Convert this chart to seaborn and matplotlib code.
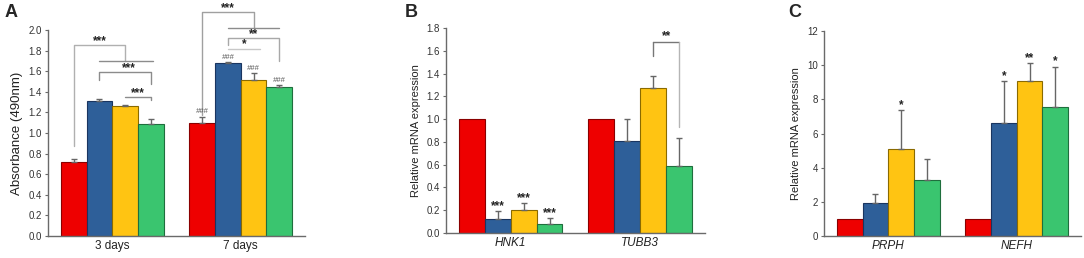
import matplotlib
matplotlib.use("Agg")
import matplotlib.pyplot as plt
import seaborn as sns
import pandas as pd
import numpy as np

sns.set_style("white")
plt.rcParams['font.family'] = ['Liberation Sans', 'DejaVu Sans']

groups = ["G1", "G2", "G3", "G4"]
colors = ["#EE0000", "#2E5F99", "#FFC412", "#3AC56F"]
edges = ["#8a0000", "#1a3560", "#8a6a00", "#1f6e3d"]

# Panel A
a_cats = ["3 days", "7 days"]
a_vals = {"3 days": [0.72, 1.31, 1.26, 1.09], "7 days": [1.10, 1.68, 1.51, 1.45]}
a_errs = {"3 days": [0.03, 0.02, 0.01, 0.045], "7 days": [0.055, 0.01, 0.07, 0.02]}
a_ticks = [0.0, 0.2, 0.4, 0.6, 0.8, 1.0, 1.2, 1.4, 1.6, 1.8, 2.0]

# Panel B
b_cats = ["HNK1", "TUBB3"]
b_vals = {"HNK1": [1.0, 0.12, 0.20, 0.08], "TUBB3": [1.0, 0.81, 1.27, 0.59]}
b_errs = {"HNK1": [0.0, 0.07, 0.06, 0.05], "TUBB3": [0.0, 0.19, 0.11, 0.24]}
b_ticks = [0.0, 0.2, 0.4, 0.6, 0.8, 1.0, 1.2, 1.4, 1.6, 1.8]

# Panel C
c_cats = ["PRPH", "NEFH"]
c_vals = {"PRPH": [1.0, 1.95, 5.1, 3.3], "NEFH": [1.0, 6.6, 9.1, 7.55]}
c_errs = {"PRPH": [0.0, 0.5, 2.25, 1.2], "NEFH": [0.0, 2.45, 1.0, 2.35]}
c_ticks = [0, 2, 4, 6, 8, 10, 12]


def make_df(cats, vals, errs):
    rows = []
    for c in cats:
        for g, v, e in zip(groups, vals[c], errs[c]):
            rows.append({"cat": c, "grp": g, "val": v, "err": e})
    return pd.DataFrame(rows)


fig = plt.figure(figsize=(10.84, 2.58), dpi=100)
axA = fig.add_axes([0.0443, 0.0853, 0.2371, 0.7984])
axB = fig.add_axes([0.4114, 0.0969, 0.2389, 0.7946])
axC = fig.add_axes([0.7601, 0.0853, 0.2371, 0.7945])

spine_col = "#6a6a6a"
lc = "#8c8c8c"


def draw(ax, cats, vals, errs, ticks, ylabel, ylabel_size, italic, ylim, capsize):
    df = make_df(cats, vals, errs)
    sns.barplot(data=df, x="cat", y="val", hue="grp", order=cats, hue_order=groups,
                palette=colors, errorbar=None, legend=False, saturation=1,
                width=0.8, ax=ax, linewidth=0.8)
    centers = {}
    bar_conts = list(ax.containers)
    for gi, cont in enumerate(bar_conts):
        for ci, patch in enumerate(cont.patches):
            patch.set_edgecolor(edges[gi])
            x = patch.get_x() + patch.get_width() / 2
            h = patch.get_height()
            centers[(cats[ci], gi)] = (x, h)
            e = errs[cats[ci]][gi]
            if e > 0:
                ax.errorbar([x], [h], yerr=[[0], [e]], fmt="none", ecolor="#666666",
                            elinewidth=1.0, capsize=capsize, capthick=1.0, zorder=1)
    ax.set_xlim(-0.5, 1.5)
    ax.set_ylim(*ylim)
    ax.set_yticks(ticks)
    if isinstance(ticks[0], float):
        ax.set_yticklabels([f"{t:.1f}" for t in ticks])
    ax.set_xlabel("")
    ax.set_ylabel(ylabel, fontsize=ylabel_size, color="#222222", labelpad=4)
    for s in ["top", "right"]:
        ax.spines[s].set_visible(False)
    for s in ["left", "bottom"]:
        ax.spines[s].set_color(spine_col)
        ax.spines[s].set_linewidth(1.0)
    ax.tick_params(axis="y", direction="out", length=2.5, width=0.8, color=spine_col,
                   labelsize=7, labelcolor="#333333", pad=2, left=True)
    ax.tick_params(axis="x", length=0, labelsize=8.5, labelcolor="#222222", pad=3)
    if italic:
        for t in ax.get_xticklabels():
            t.set_style("italic")
    return centers


cA = draw(axA, a_cats, a_vals, a_errs, a_ticks, "Absorbance (490nm)", 9.5, False, (0, 2.0), 2)
cB = draw(axB, b_cats, b_vals, b_errs, b_ticks, "Relative mRNA expression", 8, True, (0, 1.8), 2.5)
cC = draw(axC, c_cats, c_vals, c_errs, c_ticks, "Relative mRNA expression", 8, True, (0, 12), 2.5)


def line(ax, xs, ys, color=lc):
    ax.plot(xs, ys, color=color, lw=1.0, clip_on=False, zorder=3)


def star(ax, x, y, s, size=8.5, dy=-0.5):
    ax.annotate(s, (x, y), xytext=(0, dy), textcoords="offset points",
                ha="center", va="bottom", fontsize=size, color="#222222",
                fontweight="bold", annotation_clip=False)


# Panel A brackets - 3 days
xr, xb, xy, xg = [cA[("3 days", i)][0] for i in range(4)]
line(axA, [xr, xr, xy, xy], [0.87, 1.85, 1.85, 1.70], "#b0b0b0")
star(axA, (xr + xy) / 2, 1.84, "***")
line(axA, [xb, xg + 0.02], [1.70, 1.70])
line(axA, [xb, xb, xg, xg], [1.51, 1.59, 1.59, 1.48])
star(axA, (xb + xg) / 2 + 0.03, 1.58, "***")
line(axA, [xy, xg, xg], [1.35, 1.35, 1.32])
star(axA, (xy + xg) / 2, 1.34, "***")
# Panel A brackets - 7 days
xr, xb, xy, xg = [cA[("7 days", i)][0] for i in range(4)]
line(axA, [xr, xr, xy, xy], [1.17, 2.17, 2.17, 2.02], "#a0a0a0")
star(axA, xb, 2.16, "***")
line(axA, [xb, xg], [2.02, 2.02])
line(axA, [xb, xb, xg, xg], [1.85, 1.92, 1.92, 1.70], "#a8a8a8")
star(axA, xy, 1.91, "**")
line(axA, [xb, xy + 0.05], [1.815, 1.815], "#c8c8c8")
star(axA, (xb + xy) / 2 + 0.03, 1.81, "*")
# ### marks
for gi, yv in zip(range(4), [1.17, 1.70, 1.59, 1.48]):
    axA.text(cA[("7 days", gi)][0], yv, "###", ha="center", va="bottom", fontsize=5.5,
             style="italic", color="#555555")

# Panel B
for gi in (1, 2, 3):
    x, h = cB[("HNK1", gi)]
    star(axB, x, h + b_errs["HNK1"][gi], "***")
xy, xg = cB[("TUBB3", 2)][0], cB[("TUBB3", 3)][0]
line(axB, [xy, xy], [1.55, 1.68], "#777777")
line(axB, [xy, xg], [1.68, 1.68], "#777777")
line(axB, [xg, xg], [1.68, 0.93], "#b5b5b5")
star(axB, (xy + xg) / 2, 1.68, "**")

# Panel C
x, h = cC[("PRPH", 2)]
star(axC, x, h + c_errs["PRPH"][2], "*")
for gi, s in zip((1, 2, 3), ("*", "**", "*")):
    x, h = cC[("NEFH", gi)]
    star(axC, x, h + c_errs["NEFH"][gi], s)

# Panel letters
fig.text(0.004, 0.985, "A", fontsize=13, fontweight="bold", va="top", ha="left")
fig.text(0.373, 0.985, "B", fontsize=13, fontweight="bold", va="top", ha="left")
fig.text(0.727, 0.985, "C", fontsize=13, fontweight="bold", va="top", ha="left")

fig.savefig("out.png", dpi=100)
